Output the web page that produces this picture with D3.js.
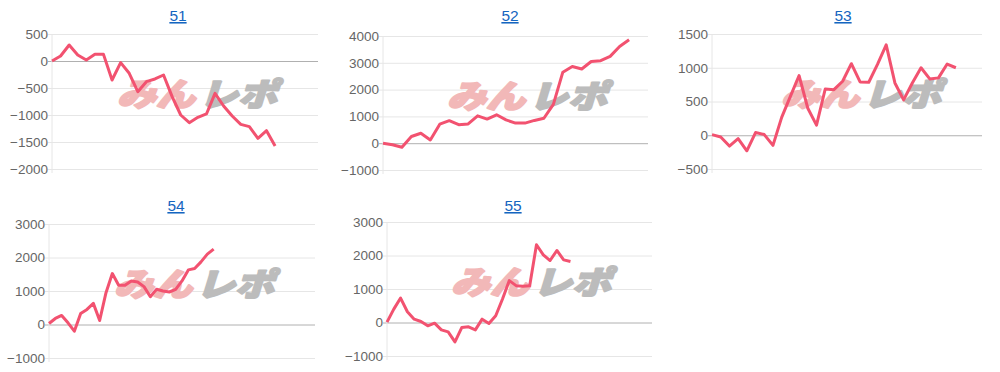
<!DOCTYPE html>
<html>
<head>
<meta charset="utf-8">
<script src="https://cdn.jsdelivr.net/npm/d3@7"></script>
<style>
  body { margin: 0; background: #fff; }
  svg { display: block; }
</style>
</head>
<body>
<svg id="chart" width="1000" height="372"></svg>
<script>
// chart titles (links)
var titles = ["51", "52", "53", "54", "55"];
// number of x categories per chart (labels are hidden)
var dayCounts = [32, 29, 32, 43, 40];

// values
var s51 = [0, 93, 296, 111, 19, 123, 123, -352, -31, -228, -568, -383, -333, -259, -660,
  -1000, -1142, -1043, -981, -599, -833, -1019, -1173, -1216, -1432, -1290, -1574];
var s52 = [0, -60, -150, 250, 370, 120, 710, 840, 690, 720, 1020, 900, 1060, 870, 750,
  750, 850, 930, 1450, 2650, 2860, 2770, 3050, 3080, 3240, 3610, 3860];
var s53 = [10, -25, -160, -50, -230, 40, 10, -150, 265, 575, 885, 400, 150, 685, 675,
  800, 1060, 790, 785, 1050, 1340, 775, 525, 775, 1000, 835, 850, 1055, 1000];
var s54 = [30, 180, 270, 50, -200, 330, 450, 630, 120, 950, 1520, 1170, 1170, 1300, 1270,
  1130, 830, 1050, 1000, 970, 1050, 1300, 1630, 1670, 1870, 2100, 2250];
var s55 = [10, 400, 730, 320, 100, 30, -100, -20, -220, -280, -580, -150, -130, -220, 100,
  -30, 200, 700, 1250, 1100, 1080, 1100, 2320, 2020, 1850, 2150, 1870, 1820];

// y tick labels
var ticks51 = [-2000, -1500, -1000, -500, 0, 500];
var ticks52 = [-1000, 0, 1000, 2000, 3000, 4000];
var ticks53 = [-500, 0, 500, 1000, 1500];
var ticks54 = [-1000, 0, 1000, 2000, 3000];
var ticks55 = [-1000, 0, 1000, 2000, 3000];

var series = [s51, s52, s53, s54, s55];
var tickSets = [ticks51, ticks52, ticks53, ticks54, ticks55];

// plot boxes
var boxes = [
  {x0: 52, y0: 34, x1: 318, y1: 169, tx: 178, ty: 21},
  {x0: 383, y0: 36, x1: 648, y1: 170, tx: 510, ty: 21},
  {x0: 712, y0: 34, x1: 982, y1: 169, tx: 843, ty: 21},
  {x0: 49, y0: 224, x1: 315, y1: 358, tx: 176, ty: 211},
  {x0: 387, y0: 222, x1: 652, y1: 356, tx: 513, ty: 211}
];

var svg = d3.select("#chart");
var lineColor = "#f25270";

titles.forEach(function(t, i) {
  var b = boxes[i];
  var data = series[i];
  var tks = tickSets[i];

  var x = d3.scalePoint()
    .domain(d3.range(dayCounts[i]))
    .range([b.x0, b.x1]);
  var y = d3.scaleLinear()
    .domain(d3.extent(tks))
    .range([b.y1, b.y0]);

  var g = svg.append("g");

  // title
  g.append("text")
    .attr("x", b.tx)
    .attr("y", b.ty)
    .attr("text-anchor", "middle")
    .attr("font-family", "Liberation Sans, Arial, sans-serif")
    .attr("font-size", 15.5)
    .attr("fill", "#1565c0")
    .attr("text-decoration", "underline")
    .text(t);

  // y axis + grid
  var ax = g.append("g")
    .attr("transform", "translate(" + b.x0 + ",0)")
    .call(d3.axisLeft(y).tickValues(tks).tickSize(-(b.x1 - b.x0)).tickPadding(4).tickFormat(d3.format("d")));
  ax.select(".domain").remove();
  ax.selectAll(".tick line")
    .attr("x1", -4)
    .attr("stroke", function(d) { return d === 0 ? "#b0b0b0" : "#e6e6e6"; });
  ax.selectAll(".tick text")
    .attr("fill", "#666")
    .attr("font-family", "Liberation Sans, Arial, sans-serif")
    .attr("font-size", 13.5);

  g.append("line")
    .attr("x1", b.x0).attr("x2", b.x0)
    .attr("y1", b.y0).attr("y2", b.y1 + 4)
    .attr("stroke", "#e6e6e6");

  // watermark
  var wm = g.append("g")
    .attr("transform", "translate(" + (b.x1 - 205) + "," + (b.y0 + 44) + ")");
  [["みん", 4, "#f2b8b8"], ["レポ", 86, "#bcbcbc"]].forEach(function(w) {
    wm.append("text")
      .attr("x", w[1]).attr("y", 28)
      .attr("font-family", "Noto Sans CJK JP")
      .attr("font-weight", 900)
      .attr("font-style", "italic")
      .attr("font-size", 32)
      .attr("textLength", 78)
      .attr("lengthAdjust", "spacingAndGlyphs")
      .attr("fill", w[2])
      .attr("stroke", w[2])
      .attr("stroke-width", 2)
      .attr("stroke-linejoin", "round")
      .text(w[0]);
  });

  // line
  g.append("path")
    .datum(data)
    .attr("fill", "none")
    .attr("stroke", lineColor)
    .attr("stroke-width", 3)
    .attr("stroke-linejoin", "round")
    .attr("d", d3.line()
      .x(function(d, j) { return x(j); })
      .y(function(d) { return y(d); }));
});
</script>
</body>
</html>
